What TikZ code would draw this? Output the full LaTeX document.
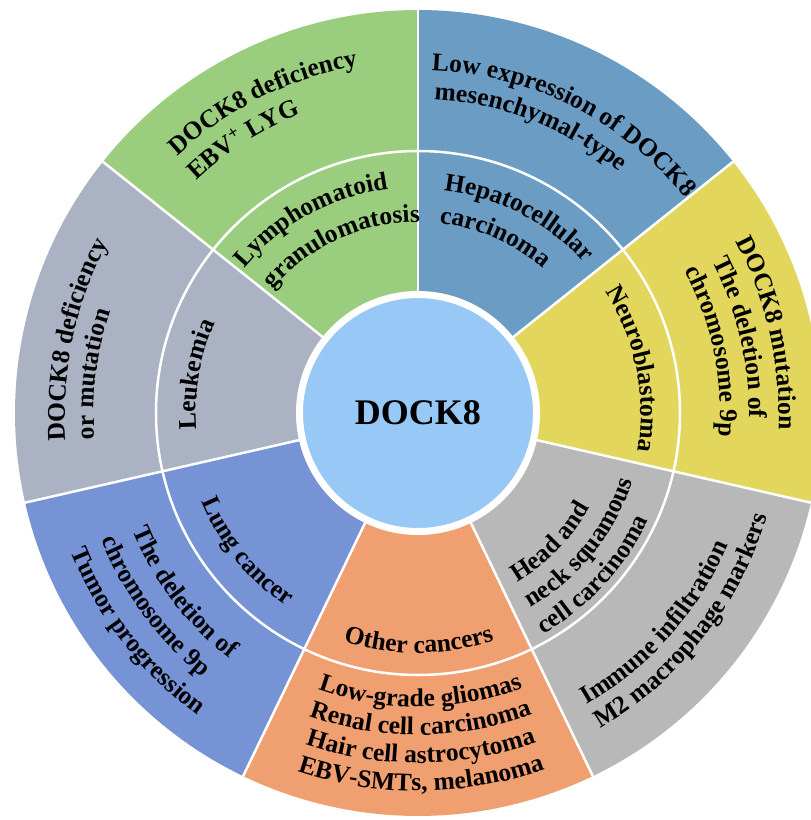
\documentclass[tikz,border=0pt]{standalone}
\usepackage{fontspec}
\setmainfont{Liberation Serif}
\usetikzlibrary{decorations.text}

\definecolor{hepblue}{HTML}{6A9CC4}
\definecolor{lyggreen}{HTML}{9ACD7E}
\definecolor{leukgray}{HTML}{AAB2C3}
\definecolor{lungblue}{HTML}{7693D6}
\definecolor{othorange}{HTML}{F0A070}
\definecolor{hnsgray}{HTML}{B8B8B8}
\definecolor{neuroyellow}{HTML}{E3D65C}
\definecolor{coreblue}{HTML}{98C8F6}

\newcommand\lbl{\bfseries\fontsize{25.5}{29}\selectfont}

\tikzset{
  divider/.style={draw=white, line width=2.5pt},
  core/.style={circle, fill=coreblue, draw=white, line width=7pt,
    minimum size=237pt, inner sep=0pt,
    font=\bfseries\fontsize{36}{40}\selectfont},
}

% text on a clockwise arc round the centre: letters stand outward
\newcommand\outtext[3]{%
  \path[decorate, decoration={text along path, text align=center, text={|\lbl|#3}}]
    ({#2+45}:#1pt) arc[start angle={#2+45}, end angle={#2-45}, radius=#1pt];}
% text on a counter-clockwise arc: letters stand toward the centre
\newcommand\intext[3]{%
  \path[decorate, decoration={text along path, text align=center, text={|\lbl|#3}}]
    ({#2-45}:#1pt) arc[start angle={#2-45}, end angle={#2+45}, radius=#1pt];}

\begin{document}
\begin{tikzpicture}
\useasboundingbox (-418pt,-407pt) rectangle (393pt,413pt);
\clip (-418pt,-407pt) rectangle (393pt,413pt);

% seven equal sectors
\foreach \c [count=\i from 0] in {lyggreen,leukgray,lungblue,othorange,hnsgray,neuroyellow,hepblue} {
  \pgfmathsetmacro\a{90+\i*360/7}
  \pgfmathsetmacro\b{90+(\i+1)*360/7}
  \fill[\c] (0,0) -- (\a:403pt) arc[start angle=\a, end angle=\b, radius=403pt] -- cycle;
}
% white dividers
\foreach \i in {0,...,6}
  \draw[divider] (0,0) -- ({90+\i*360/7}:403pt);
\draw[divider] (0,0) circle[radius=262pt];

% centre
\node[core] (dock) at (0,0) {DOCK8};

% hepatocellular carcinoma
\outtext{343}{63.3}{Low expression of DOCK8}
\outtext{314}{68.6}{mesenchymal-type}
\outtext{224}{62.7}{Hepatocellular}
\outtext{191}{66.4}{carcinoma}

% lymphomatoid granulomatosis
\outtext{352}{116.5}{DOCK8 deficiency}
\outtext{321}{122.6}{EBV{\textsuperscript{+}} LYG}
\outtext{226}{118.9}{Lymphomatoid}
\outtext{191}{114.5}{granulomatosis}

% leukemia
\outtext{353}{167.9}{DOCK8 deficiency}
\outtext{324}{173.2}{or mutation}
\outtext{222}{170.2}{Leukemia}

% neuroblastoma
\outtext{361}{12.9}{DOCK8 mutation}
\outtext{331}{13.2}{The deletion of}
\outtext{302}{11.9}{chromosome 9p}
\outtext{223}{11.6}{Neuroblastoma}

% lung cancer
\intext{309}{217.5}{The deletion of}
\intext{341}{216.3}{chromosome 9p}
\intext{374}{217.8}{Tumor progression}
\intext{234}{219}{Lung cancer}

% other cancers
\intext{240}{270.2}{Other cancers}
\intext{294}{270.5}{Low-grade gliomas}
\intext{322}{270.5}{Renal cell carcinoma}
\intext{350}{270.5}{Hair cell astrocytoma}
\intext{378}{270.5}{EBV-SMTs, melanoma}

% head and neck squamous cell carcinoma
\intext{196}{315.8}{Head and}
\intext{225}{321.3}{neck squamous}
\intext{254}{317.3}{cell carcinoma}
\intext{337}{318.5}{Immune infiltration}
\intext{364}{321.8}{M2 macrophage markers}
\end{tikzpicture}
\end{document}
